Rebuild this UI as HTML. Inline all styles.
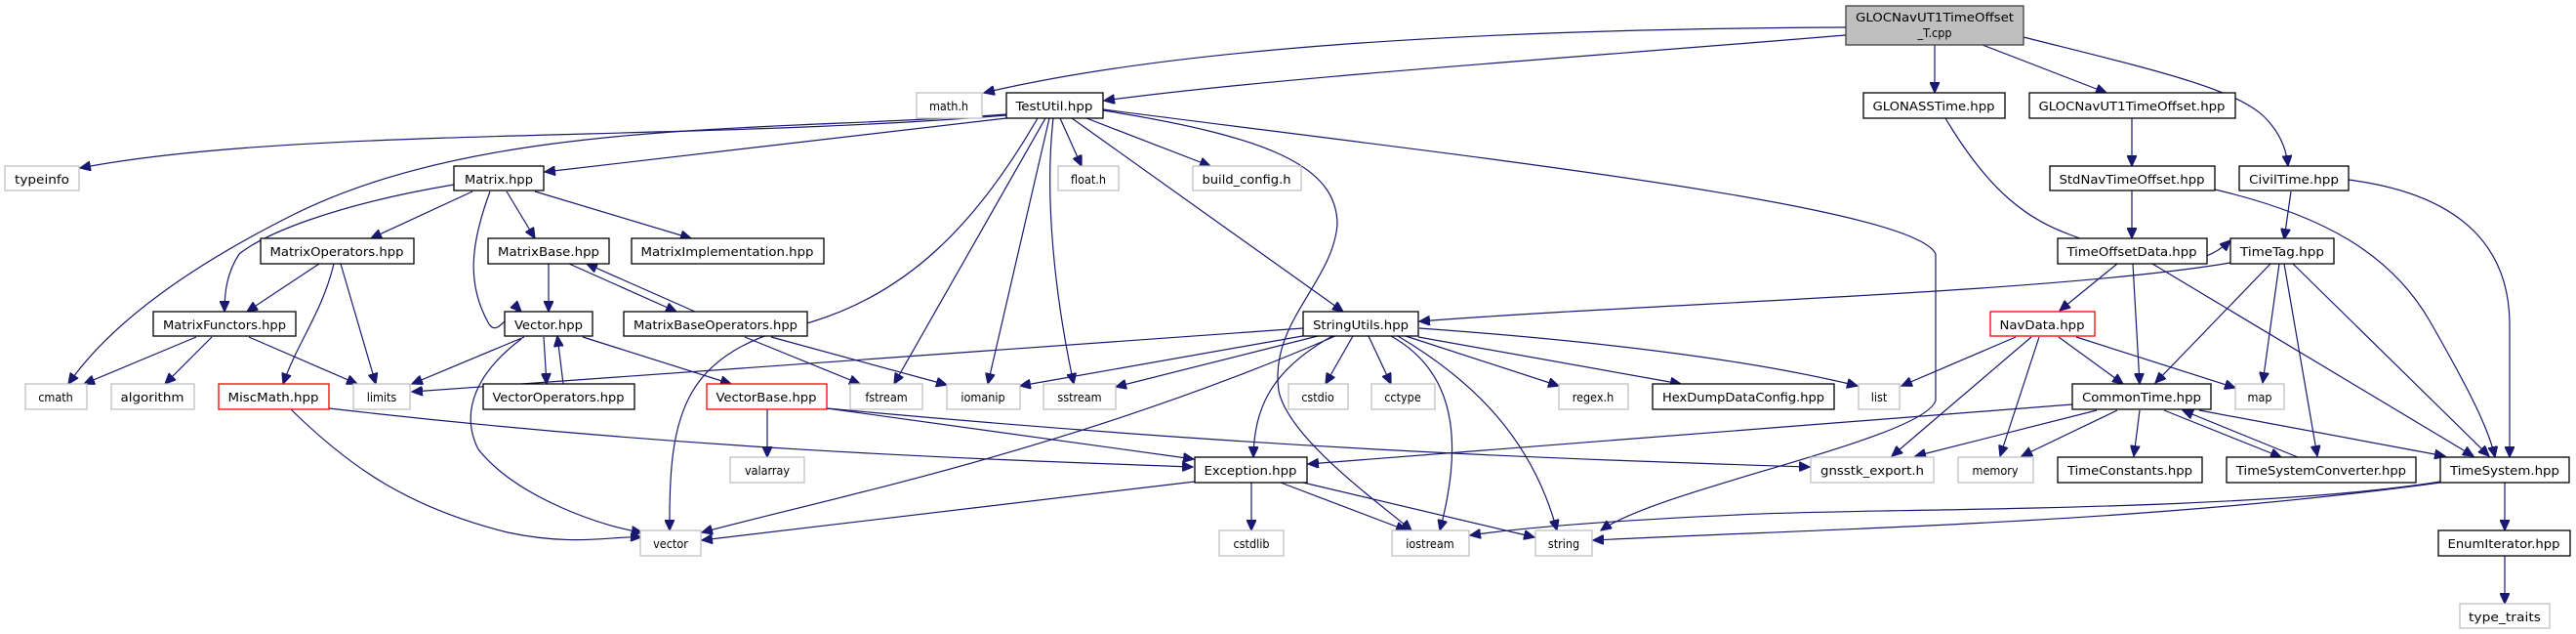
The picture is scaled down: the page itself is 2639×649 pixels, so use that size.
<!DOCTYPE html>
<html><head><meta charset="utf-8"><style>
html,body{margin:0;padding:0;background:#fff;}
svg{display:block;}
text{font-family:"DejaVu Sans Condensed","DejaVu Sans","Liberation Sans",sans-serif;font-size:12.5px;fill:#000;text-anchor:middle;}
.b{fill:#fff;stroke:#000;stroke-width:1.3;}
.g{fill:#fff;stroke:#bfbfbf;stroke-width:1.3;}
.r{fill:#fff;stroke:#ff0000;stroke-width:1.3;}
path{fill:none;stroke:#191970;stroke-width:1.2;}
</style></head><body>
<svg width="2639" height="649" viewBox="0 0 2639 649" xmlns="http://www.w3.org/2000/svg">
<defs><marker id="a" markerUnits="userSpaceOnUse" markerWidth="12" markerHeight="10" refX="11" refY="5" orient="auto"><path d="M0,0 L11,5 L0,10 Z" style="fill:#191970;stroke:#191970"/></marker></defs>
<g marker-end="url(#a)">
<path d="M1891,28 C1500,30 1200,50 1008,95"/>
<path d="M1891,36 C1600,60 1300,80 1131,103"/>
<path d="M1982,46 L1982,95"/>
<path d="M2031,46 L2158,95"/>
<path d="M2073,38 C2200,70 2290,90 2320,120 C2340,140 2343,160 2344,170"/>
<path d="M1031,118 C700,145 300,130 82,172"/>
<path d="M1031,121 L558,176"/>
<path d="M1031,117 C800,135 500,120 300,220 C160,290 100,350 70,393"/>
<path d="M1086,121 L1108,170"/>
<path d="M1113,121 L1240,170"/>
<path d="M1098,121 L1376,319"/>
<path d="M1071,121 L916,393"/>
<path d="M1075,121 L1012,393"/>
<path d="M1079,121 C1070,200 1080,300 1100,393"/>
<path d="M1063,121 C1000,230 930,300 830,330 C700,360 685,420 686,543"/>
<path d="M1130,113 C1300,140 1370,170 1370,230 C1365,290 1300,330 1310,400 C1320,450 1420,520 1446,543"/>
<path d="M1130,112 C1500,160 1960,210 1983,260 L1983,410 C1970,450 1700,500 1640,543"/>
<path d="M465,189 C340,210 270,240 245,260 C232,280 230,300 230,319"/>
<path d="M484,196 L380,244"/>
<path d="M502,196 C482,250 478,290 500,330 C510,350 525,310 534,319"/>
<path d="M519,196 L548,244"/>
<path d="M548,196 L708,244"/>
<path d="M327,270 L253,319"/>
<path d="M342,270 C330,320 305,350 290,393"/>
<path d="M349,270 L385,393"/>
<path d="M562,270 L562,319"/>
<path d="M583,270 L693,319"/>
<path d="M712,319 L601,270"/>
<path d="M201,345 L86,393"/>
<path d="M217,345 L169,393"/>
<path d="M255,345 L366,393"/>
<path d="M537,345 L422,393"/>
<path d="M557,345 L560,393"/>
<path d="M577,393 L571,344"/>
<path d="M534,347 C490,380 470,420 490,460 C530,510 620,540 658,545"/>
<path d="M597,345 L749,393"/>
<path d="M298,419 C360,480 420,520 520,545 C590,560 630,548 657,550"/>
<path d="M786,419 L786,468"/>
<path d="M763,345 L881,393"/>
<path d="M790,345 L970,394"/>
<path d="M337,418 C700,460 1000,470 1222,478"/>
<path d="M847,418 L1223,470"/>
<path d="M847,418 C1300,460 1600,470 1854,478"/>
<path d="M1224,493 L719,553"/>
<path d="M1368,344 C1100,460 850,510 719,545"/>
<path d="M1335,336 L422,401"/>
<path d="M1340,343 L1045,395"/>
<path d="M1350,344 L1143,396"/>
<path d="M1365,344 C1300,380 1285,420 1284,468"/>
<path d="M1386,344 L1358,393"/>
<path d="M1402,344 L1425,393"/>
<path d="M1425,344 C1490,380 1500,450 1475,543"/>
<path d="M1432,344 C1510,390 1570,450 1595,543"/>
<path d="M1440,344 L1597,395"/>
<path d="M1453,345 L1722,393"/>
<path d="M1454,336 C1650,350 1800,370 1903,395"/>
<path d="M2285,269 C2100,300 1700,310 1454,329"/>
<path d="M1282,494 L1282,543"/>
<path d="M1312,494 L1441,543"/>
<path d="M1335,494 L1572,550"/>
<path d="M2123,414 L1340,475"/>
<path d="M2500,493 C2300,525 1900,520 1780,527 C1650,533 1560,540 1506,548"/>
<path d="M2500,494 C2200,535 1900,540 1632,553"/>
<path d="M2566,494 L2566,543"/>
<path d="M2566,569 L2566,618"/>
<path d="M1993,121 C2040,200 2080,225 2120,240 C2200,270 2250,280 2285,246"/>
<path d="M2184,121 L2184,170"/>
<path d="M2184,195 L2184,244"/>
<path d="M2269,194 C2380,220 2450,260 2490,330 C2530,400 2550,440 2556,468"/>
<path d="M2347,196 L2340,245"/>
<path d="M2406,184 C2530,200 2570,260 2571,330 L2571,468"/>
<path d="M2169,270 L2110,318"/>
<path d="M2185,270 L2192,393"/>
<path d="M2205,270 L2534,467"/>
<path d="M2326,270 L2208,392"/>
<path d="M2335,270 L2318,392"/>
<path d="M2340,270 L2374,467"/>
<path d="M2349,270 L2550,467"/>
<path d="M2065,345 L1948,395"/>
<path d="M2081,345 L1938,467"/>
<path d="M2089,345 L2049,467"/>
<path d="M2109,345 L2175,393"/>
<path d="M2127,345 L2290,397"/>
<path d="M2148,420 L1962,467"/>
<path d="M2169,420 L2071,467"/>
<path d="M2192,420 L2186,467"/>
<path d="M2217,420 L2337,468"/>
<path d="M2354,468 L2236,420"/>
<path d="M2253,420 L2505,467"/>
</g>
<!-- nodes -->
<rect x="1891" y="6" width="182" height="40" style="fill:#bfbfbf;stroke:#404040;stroke-width:1.3"/>
<text x="1982" y="22" textLength="162" lengthAdjust="spacingAndGlyphs">GLOCNavUT1TimeOffset</text>
<text x="1982" y="38">_T.cpp</text>

<rect class="g" x="939" y="95" width="67" height="26"/><text x="972" y="113">math.h</text>
<rect class="b" x="1031" y="95" width="99" height="26"/><text x="1080" y="113" textLength="79" lengthAdjust="spacingAndGlyphs">TestUtil.hpp</text>
<rect class="b" x="1909" y="95" width="145" height="26"/><text x="1981" y="113" textLength="125" lengthAdjust="spacingAndGlyphs">GLONASSTime.hpp</text>
<rect class="b" x="2079" y="95" width="211" height="26"/><text x="2184" y="113" textLength="191" lengthAdjust="spacingAndGlyphs">GLOCNavUT1TimeOffset.hpp</text>

<rect class="g" x="5" y="170" width="76" height="25"/><text x="43" y="188" textLength="56" lengthAdjust="spacingAndGlyphs">typeinfo</text>
<rect class="b" x="465" y="170" width="92" height="25"/><text x="511" y="188" textLength="70" lengthAdjust="spacingAndGlyphs">Matrix.hpp</text>
<rect class="g" x="1084" y="170" width="62" height="25"/><text x="1115" y="188">float.h</text>
<rect class="g" x="1222" y="170" width="111" height="25"/><text x="1277" y="188" textLength="91" lengthAdjust="spacingAndGlyphs">build_config.h</text>
<rect class="b" x="2100" y="170" width="169" height="25"/><text x="2184" y="188" textLength="149" lengthAdjust="spacingAndGlyphs">StdNavTimeOffset.hpp</text>
<rect class="b" x="2294" y="170" width="112" height="25"/><text x="2350" y="188" textLength="92" lengthAdjust="spacingAndGlyphs">CivilTime.hpp</text>

<rect class="b" x="267" y="244" width="157" height="26"/><text x="345" y="262" textLength="137" lengthAdjust="spacingAndGlyphs">MatrixOperators.hpp</text>
<rect class="b" x="500" y="244" width="124" height="26"/><text x="562" y="262" textLength="104" lengthAdjust="spacingAndGlyphs">MatrixBase.hpp</text>
<rect class="b" x="647" y="244" width="197" height="26"/><text x="745" y="262" textLength="177" lengthAdjust="spacingAndGlyphs">MatrixImplementation.hpp</text>
<rect class="b" x="2108" y="244" width="153" height="26"/><text x="2184" y="262" textLength="133" lengthAdjust="spacingAndGlyphs">TimeOffsetData.hpp</text>
<rect class="b" x="2285" y="244" width="106" height="26"/><text x="2338" y="262" textLength="86" lengthAdjust="spacingAndGlyphs">TimeTag.hpp</text>

<rect class="b" x="157" y="319" width="146" height="25"/><text x="230" y="337" textLength="126" lengthAdjust="spacingAndGlyphs">MatrixFunctors.hpp</text>
<rect class="b" x="517" y="319" width="90" height="25"/><text x="562" y="337" textLength="70" lengthAdjust="spacingAndGlyphs">Vector.hpp</text>
<rect class="b" x="639" y="319" width="188" height="25"/><text x="733" y="337" textLength="168" lengthAdjust="spacingAndGlyphs">MatrixBaseOperators.hpp</text>
<rect class="b" x="1335" y="319" width="118" height="25"/><text x="1394" y="337" textLength="98" lengthAdjust="spacingAndGlyphs">StringUtils.hpp</text>
<rect class="r" x="2039" y="319" width="107" height="25"/><text x="2092" y="337" textLength="87" lengthAdjust="spacingAndGlyphs">NavData.hpp</text>

<rect class="g" x="26" y="393" width="63" height="26"/><text x="57" y="411">cmath</text>
<rect class="g" x="114" y="393" width="85" height="26"/><text x="156" y="411" textLength="65" lengthAdjust="spacingAndGlyphs">algorithm</text>
<rect class="r" x="224" y="393" width="113" height="26"/><text x="280" y="411" textLength="93" lengthAdjust="spacingAndGlyphs">MiscMath.hpp</text>
<rect class="g" x="362" y="393" width="58" height="26"/><text x="391" y="411">limits</text>
<rect class="b" x="495" y="393" width="155" height="26"/><text x="572" y="411" textLength="135" lengthAdjust="spacingAndGlyphs">VectorOperators.hpp</text>
<rect class="r" x="724" y="393" width="123" height="26"/><text x="785" y="411" textLength="103" lengthAdjust="spacingAndGlyphs">VectorBase.hpp</text>
<rect class="g" x="871" y="393" width="74" height="26"/><text x="908" y="411">fstream</text>
<rect class="g" x="970" y="393" width="75" height="26"/><text x="1007" y="411">iomanip</text>
<rect class="g" x="1069" y="393" width="74" height="26"/><text x="1106" y="411">sstream</text>
<rect class="g" x="1320" y="393" width="61" height="26"/><text x="1350" y="411">cstdio</text>
<rect class="g" x="1405" y="393" width="65" height="26"/><text x="1437" y="411">cctype</text>
<rect class="g" x="1597" y="393" width="71" height="26"/><text x="1632" y="411">regex.h</text>
<rect class="b" x="1693" y="393" width="186" height="26"/><text x="1786" y="411" textLength="166" lengthAdjust="spacingAndGlyphs">HexDumpDataConfig.hpp</text>
<rect class="g" x="1904" y="393" width="42" height="26"/><text x="1925" y="411">list</text>
<rect class="b" x="2123" y="393" width="142" height="26"/><text x="2194" y="411" textLength="122" lengthAdjust="spacingAndGlyphs">CommonTime.hpp</text>
<rect class="g" x="2290" y="393" width="50" height="26"/><text x="2315" y="411">map</text>

<rect class="g" x="748" y="468" width="76" height="26"/><text x="786" y="486">valarray</text>
<rect class="b" x="1224" y="468" width="115" height="26"/><text x="1281" y="486" textLength="95" lengthAdjust="spacingAndGlyphs">Exception.hpp</text>
<rect class="g" x="1855" y="468" width="126" height="26"/><text x="1918" y="486" textLength="106" lengthAdjust="spacingAndGlyphs">gnsstk_export.h</text>
<rect class="g" x="2006" y="468" width="77" height="26"/><text x="2044" y="486">memory</text>
<rect class="b" x="2108" y="468" width="148" height="26"/><text x="2182" y="486" textLength="128" lengthAdjust="spacingAndGlyphs">TimeConstants.hpp</text>
<rect class="b" x="2281" y="468" width="194" height="26"/><text x="2378" y="486" textLength="174" lengthAdjust="spacingAndGlyphs">TimeSystemConverter.hpp</text>
<rect class="b" x="2500" y="468" width="132" height="26"/><text x="2566" y="486" textLength="112" lengthAdjust="spacingAndGlyphs">TimeSystem.hpp</text>

<rect class="g" x="656" y="543" width="62" height="26"/><text x="687" y="561">vector</text>
<rect class="g" x="1249" y="543" width="66" height="26"/><text x="1282" y="561">cstdlib</text>
<rect class="g" x="1426" y="543" width="79" height="26"/><text x="1465" y="561">iostream</text>
<rect class="g" x="1573" y="543" width="58" height="26"/><text x="1602" y="561">string</text>
<rect class="b" x="2498" y="543" width="135" height="26"/><text x="2565" y="561" textLength="115" lengthAdjust="spacingAndGlyphs">EnumIterator.hpp</text>

<rect class="g" x="2520" y="618" width="92" height="25"/><text x="2566" y="636" textLength="74" lengthAdjust="spacingAndGlyphs">type_traits</text>
</svg>
</body></html>
